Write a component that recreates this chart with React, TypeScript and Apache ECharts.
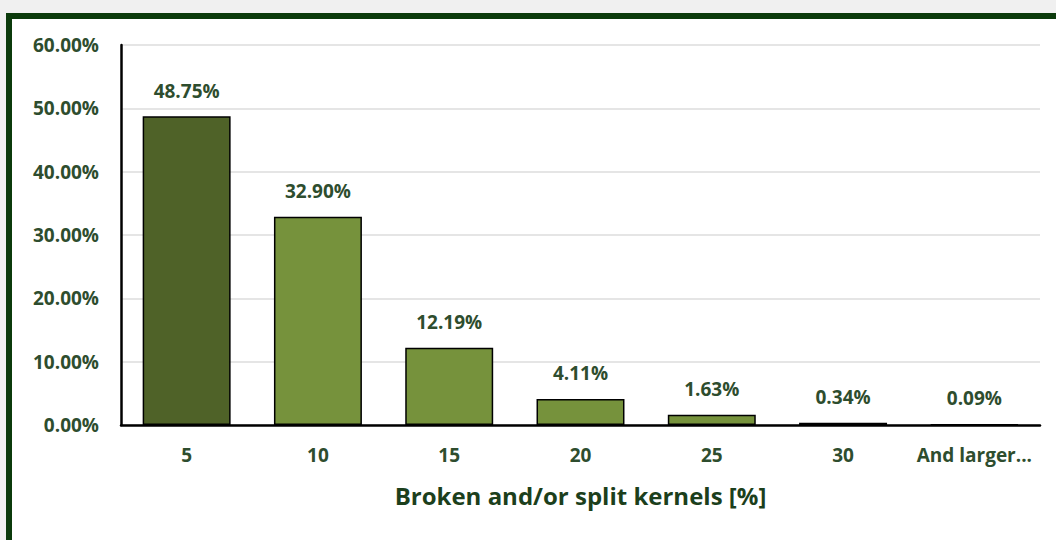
import React, { useEffect, useRef } from "react";
import * as echarts from "echarts";

const categories = ["5", "10", "15", "20", "25", "30", "And larger..."];
const values = [48.75, 32.9, 12.19, 4.11, 1.63, 0.34, 0.09];
const barColors = ["#4f6228", "#76923c", "#76923c", "#76923c", "#76923c", "#76923c", "#76923c"];
const xTitle = "Broken and/or split kernels [%]";

export default function App() {
  const ref = useRef<HTMLDivElement>(null);
  useEffect(() => {
    if (!ref.current) return;
    const chart = echarts.init(ref.current, null, { renderer: "svg" });
    const font = "'Open Sans', sans-serif";
    chart.setOption({
      animation: false,
      grid: { left: 121, right: 16, top: 45, bottom: 115, containLabel: false },
      xAxis: {
        type: "category",
        data: categories,
        axisLine: { lineStyle: { color: "#000", width: 2.5 } },
        axisTick: { show: false },
        axisLabel: { interval: 0, color: "#2e4d2e", fontFamily: font, fontWeight: "bold", fontSize: 19, margin: 20 },
        name: xTitle,
        nameLocation: "middle",
        nameGap: 58,
        nameTextStyle: { color: "#1c3f1c", fontFamily: font, fontWeight: "bold", fontSize: 24 },
      },
      yAxis: {
        type: "value",
        min: 0,
        max: 60,
        interval: 10,
        axisLine: { show: true, lineStyle: { color: "#000", width: 2.5 } },
        axisTick: { show: false },
        splitLine: { lineStyle: { color: "#dcdcdc", width: 1.5 } },
        axisLabel: {
          color: "#2e4d2e",
          fontFamily: font,
          fontWeight: "bold",
          fontSize: 19,
          margin: 22,
          formatter: (v: number) => v.toFixed(2) + "%",
        },
      },
      series: [
        {
          type: "bar",
          barCategoryGap: "33%",
          data: values.map((v, i) => ({ value: v, itemStyle: { color: barColors[i] } })),
          itemStyle: { borderColor: "#000", borderWidth: 1.5 },
          label: {
            show: true,
            position: "top",
            distance: 16,
            color: "#2e4d2e",
            fontFamily: font,
            fontWeight: "bold",
            fontSize: 19,
            formatter: (p: any) => p.value.toFixed(2) + "%",
          },
        },
      ],
    });
    return () => chart.dispose();
  }, []);
  return (
    <div style={{ position: "absolute", left: 0, top: 0, width: 1056, height: 540, background: "#f0f0f0", overflow: "hidden" }}>
      <div
        style={{
          position: "absolute",
          left: 6,
          top: 13,
          width: 1056,
          height: 540,
          background: "#ffffff",
          borderLeft: "6px solid #0b3a0b",
          borderTop: "6px solid #0b3a0b",
          boxSizing: "border-box",
        }}
      />
      <div ref={ref} style={{ position: "absolute", left: 0, top: 0, width: 1056, height: 540 }} />
    </div>
  );
}
